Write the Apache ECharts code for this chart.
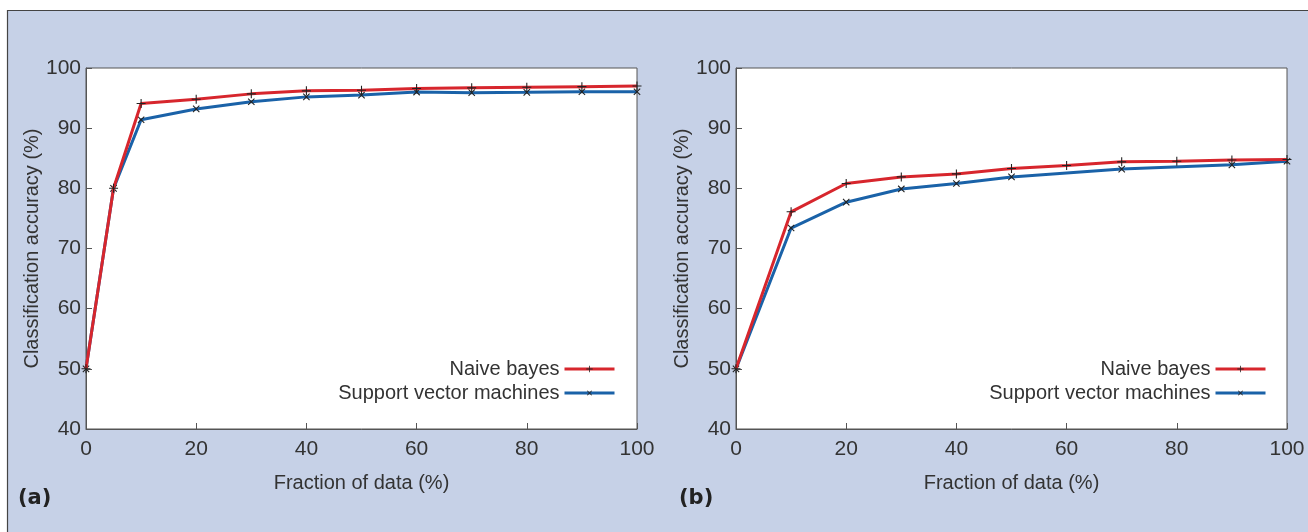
<!DOCTYPE html>
<html>
<head>
<meta charset="utf-8">
<script src="https://cdn.jsdelivr.net/npm/echarts@6/dist/echarts.min.js"></script>
<style>
  html, body { margin: 0; padding: 0; background: #fff; }
  #chart { width: 1308px; height: 532px; }
</style>
</head>
<body>
<div id="chart"></div>
<script>
// panel (a)
const xA = [0, 5, 10, 20, 30, 40, 50, 60, 70, 80, 90, 100]
const nbA = [50, 80, 94.1, 94.8, 95.7, 96.2, 96.3, 96.6, 96.7, 96.8, 96.9, 97.0]
const svmA = [50, 80, 91.4, 93.2, 94.4, 95.2, 95.5, 96.0, 95.9, 95.95, 96.05, 96.05]

// panel (b)
const xB = [0, 10, 20, 30, 40, 50, 60, 70, 80, 90, 100]
const nbB = [50, 76.1, 80.8, 81.9, 82.4, 83.3, 83.8, 84.4, 84.5, 84.7, 84.8]
const xBsvm = [0, 10, 20, 30, 40, 50, 70, 90, 100]
const svmB = [50, 73.4, 77.7, 79.9, 80.8, 81.9, 83.2, 83.9, 84.5]

const yTicks = [40, 50, 60, 70, 80, 90, 100]
const xTicks = [0, 20, 40, 60, 80, 100]
const names = ['Naive bayes', 'Support vector machines']

const FONT = '"Liberation Sans Narrow", "Liberation Sans", Arial, sans-serif'
const RED = '#d7262d'
const BLUE = '#1a62a8'
const PLUS = 'path://M4.4,0H5.6V10H4.4Z M0,4.4H10V5.6H0Z'

const pair = (xs, ys) => xs.map((x, i) => [x, ys[i]])

const chart = echarts.init(document.getElementById('chart'))

const makeX = (idx) => ({
  type: 'value',
  gridIndex: idx,
  min: xTicks[0],
  max: xTicks[xTicks.length - 1],
  interval: 20,
  name: 'Fraction of data (%)',
  nameLocation: 'middle',
  nameGap: 44,
  nameTextStyle: { fontFamily: FONT, fontSize: 20, color: '#333' },
  axisLine: { show: true, lineStyle: { color: '#555', width: 1 } },
  axisTick: { show: true, inside: true, length: 6, lineStyle: { color: '#555' } },
  axisLabel: { fontFamily: FONT, fontSize: 21, color: '#333', margin: 10 },
  splitLine: { show: false }
})

const makeY = (idx) => ({
  type: 'value',
  gridIndex: idx,
  min: yTicks[0],
  max: yTicks[yTicks.length - 1],
  interval: 10,
  name: 'Classification accuracy (%)',
  nameLocation: 'middle',
  nameGap: 39,
  nameTextStyle: { fontFamily: FONT, fontSize: 20, color: '#333' },
  axisLine: { show: true, lineStyle: { color: '#555', width: 1 } },
  axisTick: { show: true, inside: true, length: 6, lineStyle: { color: '#555' } },
  axisLabel: { fontFamily: FONT, fontSize: 21, color: '#333', margin: 5 },
  splitLine: { show: false }
})

const makeSeries = (name, data, idx, color, rotate) => ({
  name: name,
  type: 'line',
  xAxisIndex: idx,
  yAxisIndex: idx,
  data: data,
  symbol: PLUS,
  symbolSize: 9,
  symbolRotate: rotate,
  showAllSymbol: true,
  itemStyle: { color: '#222' },
  lineStyle: { color: color, width: 3 },
  z: name === names[0] ? 3 : 2,
  animation: false
})

const makeLegend = (right) => ({
  orient: 'vertical',
  align: 'right',
  right: right,
  top: 354,
  itemWidth: 50,
  itemHeight: 8,
  itemGap: 4,
  lineStyle: { width: 3 },
  textStyle: { fontFamily: FONT, fontSize: 20, color: '#333' },
  data: names,
  selectedMode: false
})

chart.setOption({
  backgroundColor: '#c6d1e7',
  textStyle: { fontFamily: FONT },
  graphic: [
    { type: 'rect', shape: { x: 0, y: 0, width: 1308, height: 10 }, style: { fill: '#fff' }, silent: true },
    { type: 'rect', shape: { x: 0, y: 0, width: 7, height: 532 }, style: { fill: '#fff' }, silent: true },
    { type: 'line', shape: { x1: 7, y1: 10.5, x2: 1308, y2: 10.5 }, style: { stroke: '#444', lineWidth: 1.2 }, silent: true },
    { type: 'line', shape: { x1: 7.5, y1: 10, x2: 7.5, y2: 532 }, style: { stroke: '#444', lineWidth: 1.2 }, silent: true },
    { type: 'text', left: 18, top: 488, style: { text: '(a)', font: 'bold 21px "DejaVu Sans", sans-serif', fill: '#222' } },
    { type: 'text', left: 679, top: 488, style: { text: '(b)', font: 'bold 21px "DejaVu Sans", sans-serif', fill: '#222' } }
  ],
  grid: [
    { left: 86, top: 68, width: 551, height: 361, show: true, backgroundColor: '#fff', borderColor: '#555', borderWidth: 1 },
    { left: 736, top: 68, width: 551, height: 361, show: true, backgroundColor: '#fff', borderColor: '#555', borderWidth: 1 }
  ],
  legend: [makeLegend(687), makeLegend(36)],
  xAxis: [makeX(0), makeX(1)],
  yAxis: [makeY(0), makeY(1)],
  series: [
    makeSeries(names[0], pair(xA, nbA), 0, RED, 0),
    makeSeries(names[1], pair(xA, svmA), 0, BLUE, 45),
    makeSeries(names[0], pair(xB, nbB), 1, RED, 0),
    makeSeries(names[1], pair(xBsvm, svmB), 1, BLUE, 45)
  ]
})
</script>
</body>
</html>
